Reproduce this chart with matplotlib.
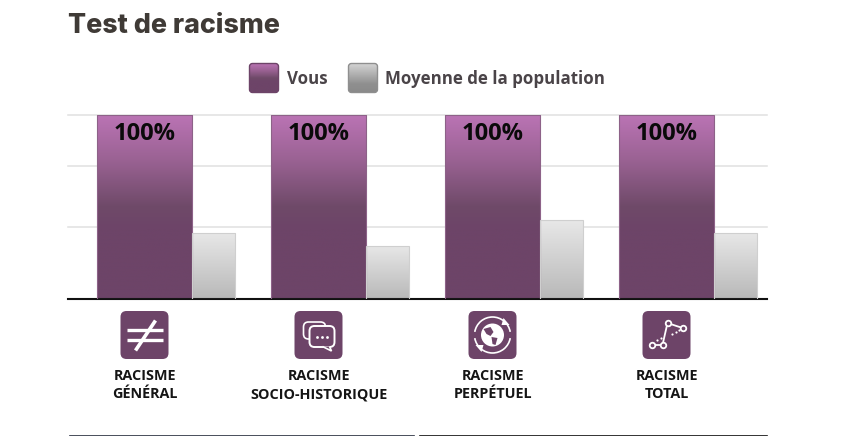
import numpy as np
import matplotlib
matplotlib.use('Agg')
import matplotlib.pyplot as plt
from matplotlib.patches import FancyBboxPatch, Circle, Arc, Polygon
from matplotlib.colors import LinearSegmentedColormap

categories = ['RACISME\nGÉNÉRAL', 'RACISME\nSOCIO-HISTORIQUE', 'RACISME\nPERPÉTUEL', 'RACISME\nTOTAL']
vous = [100, 100, 100, 100]
moyenne = [35.8, 28.7, 42.8, 35.8]
grid_values = [39, 72.5, 100]
legend_labels = ['Vous', 'Moyenne de la population']

PURPLE = '#6d4468'
purple_cm = LinearSegmentedColormap.from_list('p', [(0, '#bb74b5'), (0.25, '#9a6293'), (0.5, '#6f4a69'), (0.62, '#6d4468'), (1, '#6d4468')])
gray_cm = LinearSegmentedColormap.from_list('g', ['#e8e8e8', '#b9b9b9'])
legend_gray = LinearSegmentedColormap.from_list('lg', [(0, '#d6d6d6'), (0.7, '#8f8f8f'), (1, '#8a8a8a')])

plt.rcParams['font.family'] = ['Open Sans', 'DejaVu Sans']

W, H = 846, 436
fig = plt.figure(figsize=(W / 100, H / 100), dpi=100)

# chart axes, placed in pixels
left, right, top, base = 68, 767, 115.5, 298.5
ax = fig.add_axes([left / W, 1 - base / H, (right - left) / W, (base - top) / H])
step = 174
first = 144.5
ax.set_xlim((left - first) / step, (right - first) / step)
ax.set_ylim(0, 100)
for s in ['top', 'left', 'right']:
    ax.spines[s].set_visible(False)
ax.spines['bottom'].set_linewidth(1.5)
ax.spines['bottom'].set_color('#111111')
ax.set_xticks([])
ax.set_yticks(grid_values)
ax.tick_params(length=0, labelleft=False)
ax.grid(axis='y', color='#e0e0e0', lw=1.1, clip_on=False)
ax.set_axisbelow(True)

x = np.arange(len(categories))
w1 = 95 / step
w2 = 43 / step
grad = np.linspace(0, 1, 256).reshape(-1, 1)


def gradient_bars(xs, vals, width, cmap, edge):
    bars = ax.bar(xs, vals, width, facecolor='none', edgecolor=edge, lw=0.8, zorder=3)
    for b in bars:
        im = ax.imshow(grad, cmap=cmap, aspect='auto', zorder=2.5,
                       extent=[b.get_x(), b.get_x() + b.get_width(), 0, b.get_height()])
        im.set_clip_path(b)
    return bars


gradient_bars(x, vous, w1, purple_cm, '#8d6288')
gradient_bars(x + w1 / 2 + w2 / 2, moyenne, w2, gray_cm, '#cfcfcf')
ax.set_xlim((left - first) / step, (right - first) / step)
ax.set_ylim(0, 100)

for xi, v in zip(x, vous):
    ax.annotate(f'{v}%', (xi, v), xytext=(0, -4.5), textcoords='offset points', ha='center', va='top',
                fontsize=17, fontweight='bold', color='#0a0a0a', zorder=5)

# overlay in pixel coordinates for title, legend, icons
ov = fig.add_axes([0, 0, 1, 1], zorder=4)
ov.set_xlim(0, W)
ov.set_ylim(H, 0)
ov.axis('off')
ov.patch.set_alpha(0)

ov.text(68, 26, 'Test de racisme', fontsize=19.3, fontweight='heavy', family=['Inter', 'DejaVu Sans'],
        color='#3f3a36', va='center', ha='left')


def swatch(x0, cmap, edge):
    p = FancyBboxPatch((x0 + 2.5, 65.5), 25, 25, facecolor='none', edgecolor=edge, lw=1, zorder=3,
                       boxstyle='round,pad=2,rounding_size=3')
    ov.add_patch(p)
    im = ov.imshow(grad, cmap=cmap, aspect='auto', extent=[x0, x0 + 30, 93, 63], zorder=2)
    im.set_clip_path(p)


swatch(249, purple_cm, '#6d4468')
swatch(348, legend_gray, '#8f8f8f')
ov.set_xlim(0, W)
ov.set_ylim(H, 0)
ov.text(287, 78.5, legend_labels[0], fontsize=12.2, fontweight='bold', color='#4a4448', va='center')
ov.text(385, 78.5, legend_labels[1], fontsize=12.2, fontweight='bold', color='#4a4448', va='center')


def icon_box(cx):
    ov.add_patch(FancyBboxPatch((cx - 20, 315), 40, 40, boxstyle='round,pad=4,rounding_size=6',
                                facecolor=PURPLE, edgecolor='none'))


def icon_neq(cx):
    ov.plot([cx - 18, cx + 18], [330, 330], color='white', lw=2.4, solid_capstyle='butt')
    ov.plot([cx - 18, cx + 18], [340, 340], color='white', lw=2.4, solid_capstyle='butt')
    ov.plot([cx - 8, cx + 10], [349, 322], color='white', lw=2.6)


def icon_chat(cx):
    ov.add_patch(FancyBboxPatch((cx - 15, 322), 22, 17, boxstyle='round,pad=0,rounding_size=5',
                                facecolor='none', edgecolor='white', lw=1.2))
    ov.add_patch(FancyBboxPatch((cx - 9, 326), 25, 21, boxstyle='round,pad=0,rounding_size=5',
                                facecolor=PURPLE, edgecolor='white', lw=1.4))
    ov.add_patch(Polygon([[cx + 4, 346.5], [cx + 13, 351], [cx + 11, 346.5]], closed=False,
                         facecolor=PURPLE, edgecolor='white', lw=1.2))
    ov.scatter([cx - 1.5, cx + 3.5, cx + 8.5], [336.5, 336.5, 336.5], s=4, color='white', lw=0)


def icon_globe(cx):
    cy = 335
    ov.add_patch(Circle((cx, cy), 11.5, facecolor='white', edgecolor='none'))
    ov.add_patch(Polygon([[cx - 9, cy - 6], [cx - 2, cy - 8], [cx + 1, cy - 3], [cx - 2, cy + 1], [cx - 6, cy - 1]],
                         facecolor=PURPLE, edgecolor='none'))
    ov.add_patch(Polygon([[cx - 1, cy + 2], [cx + 5, cy + 3], [cx + 3, cy + 10], [cx, cy + 9]],
                         facecolor=PURPLE, edgecolor='none'))
    ov.add_patch(Arc((cx, cy), 36, 36, theta1=190, theta2=350, color='white', lw=1.2))
    ov.add_patch(Arc((cx, cy), 36, 36, theta1=10, theta2=170, color='white', lw=1.2))
    ov.add_patch(Polygon([[cx + 11, cy - 17], [cx + 17, cy - 10], [cx + 9, cy - 10]], facecolor='white', edgecolor='none'))
    ov.add_patch(Polygon([[cx - 11, cy + 17], [cx - 17, cy + 10], [cx - 9, cy + 10]], facecolor='white', edgecolor='none'))


def icon_graph(cx):
    px = [cx - 15, cx - 4, cx + 1, cx + 16]
    py = [345, 345, 323, 328]
    ov.plot(px, py, color='white', lw=1.3)
    ov.scatter(px, py, s=16, facecolor=PURPLE, edgecolor='white', lw=1.3, zorder=3)
    ov.scatter([cx - 10, cx - 6, cx + 5, cx + 9, cx + 12], [340, 338, 334, 332, 330], s=2.5, color='white', lw=0)


icons = [icon_neq, icon_chat, icon_globe, icon_graph]
for i, (lab, draw) in enumerate(zip(categories, icons)):
    cx = first + i * step
    icon_box(cx)
    draw(cx)
    ov.text(cx + 0.5, 385, lab, ha='center', va='center', fontsize=10.4, fontweight='bold',
            color='#151515', linespacing=1.38)

# edge of the panels below the chart
ov.plot([70, 414], [435.5, 435.5], color='#2a3040', lw=1.2)
ov.plot([420, 767], [435.5, 435.5], color='#111111', lw=1.2)
ov.set_xlim(0, W)
ov.set_ylim(H, 0)

fig.savefig('out.png', dpi=100, facecolor='white')
